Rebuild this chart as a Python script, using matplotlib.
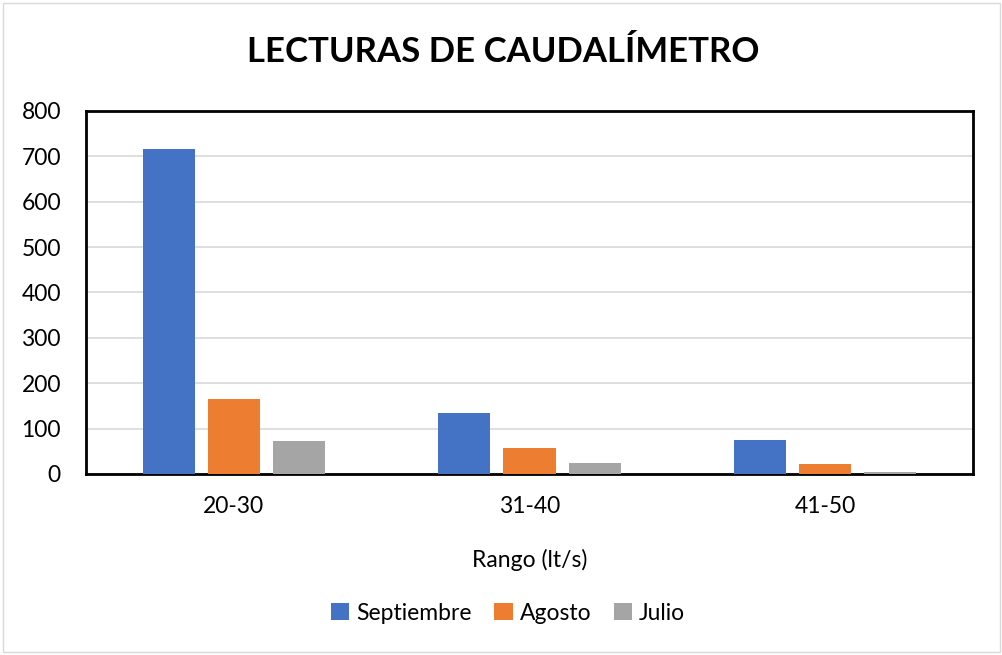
import numpy as np
import matplotlib.pyplot as plt
from matplotlib.patches import Rectangle

plt.rcParams['font.family'] = ['Lato', 'DejaVu Sans']

# data
categorias = ['20-30', '31-40', '41-50']
septiembre = [717, 135, 75]
agosto = [165, 58, 21]
julio = [73, 24, 4]

series = [('Septiembre', septiembre, '#4472C4'),
          ('Agosto', agosto, '#ED7D31'),
          ('Julio', julio, '#A5A5A5')]

fig = plt.figure(figsize=(10.03, 6.55), dpi=100)
ax = fig.add_axes([86/1003, 181/655, 887/1003, 363/655])

x = np.arange(len(categorias))
w = 0.176
paso = 0.22
for i, (nombre, vals, col) in enumerate(series):
    ax.bar(x + (i - 1) * paso, vals, w, color=col, label=nombre, zorder=3)

ax.set_xlim(-0.5, 2.5)
ax.set_ylim(0, 800)
ax.set_yticks(range(0, 801, 100))
ax.set_xticks(x)
ax.set_xticklabels(categorias)
ax.tick_params(axis='both', length=0, labelsize=16.5, colors='black')
ax.tick_params(axis='x', pad=16)
ax.tick_params(axis='y', pad=18)
ax.grid(axis='y', color='#D9D9D9', linewidth=1.2, zorder=0)
for s in ax.spines.values():
    s.set_color('black')
    s.set_linewidth(2)

ax.set_xlabel('Rango (lt/s)', fontsize=16.5, labelpad=23)

fig.suptitle('LECTURAS DE CAUDALÍMETRO', fontsize=25, fontweight='bold',
             x=503/1003, y=1 - 52/655, va='center')

fig.legend(loc='center', bbox_to_anchor=(508/1003, 1 - 613/655), ncol=3,
           frameon=False, fontsize=16.5, handlelength=0.8, handleheight=0.8,
           columnspacing=1.0, handletextpad=0.3)

fig.patches.append(Rectangle((3/1003, 3/655), 997/1003, 649/655,
                             transform=fig.transFigure, fill=False,
                             edgecolor='#D9D9D9', linewidth=1))

fig.savefig('out.png', dpi=100)
